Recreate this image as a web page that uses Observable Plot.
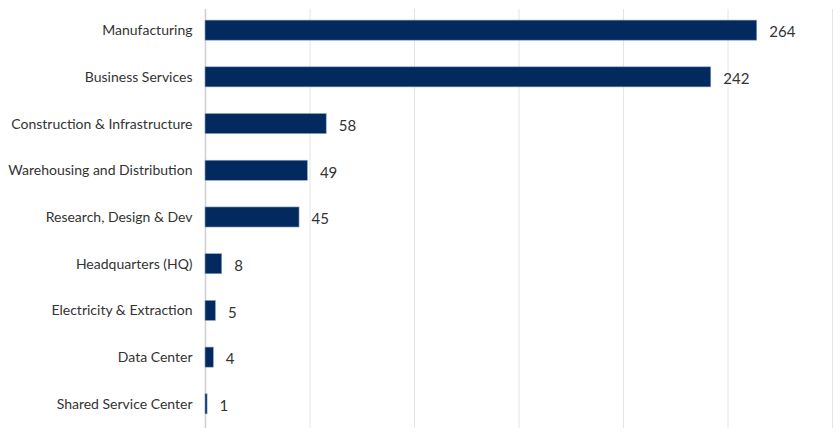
<!DOCTYPE html>
<html>
<head>
<meta charset="utf-8">
<script src="https://cdn.jsdelivr.net/npm/d3@7"></script>
<script src="https://cdn.jsdelivr.net/npm/@observablehq/plot@0.6"></script>
<style>
  html, body { margin: 0; padding: 0; background: #fff; }
  #chart svg { display: block; }
</style>
</head>
<body>
<div id="chart"></div>
<script>
const categories = [
  "Manufacturing",
  "Business Services",
  "Construction & Infrastructure",
  "Warehousing and Distribution",
  "Research, Design & Dev",
  "Headquarters (HQ)",
  "Electricity & Extraction",
  "Data Center",
  "Shared Service Center"
];
const values = [264, 242, 58, 49, 45, 8, 5, 4, 1];
const xTicks = [0, 50, 100, 150, 200, 250, 300];

const data = categories.map((c, i) => ({category: c, value: values[i]}));

const chart = Plot.plot({
  width: 840,
  height: 440,
  marginLeft: 205,
  marginRight: 8,
  marginTop: 9,
  marginBottom: 12,
  style: {fontFamily: "Lato, sans-serif", fontSize: "14px", color: "#333"},
  x: {domain: [0, 300], ticks: xTicks, axis: null},
  y: {domain: categories, paddingInner: 0.57, paddingOuter: 0.27, align: 0.44, round: false, label: null, tickSize: 0, tickPadding: 13},
  marks: [
    Plot.ruleX(xTicks.slice(1), {stroke: "#e4e4e4", strokeWidth: 1}),
    Plot.ruleX([0], {stroke: "#cfcfcf", strokeWidth: 1.5}),
    Plot.barX(data, {x: "value", y: "category", fill: "#022a5e", stroke: "#8ea6c6", strokeWidth: 0.6}),
    Plot.text(data, {x: "value", y: "category", text: d => String(d.value), dx: 12, dy: 2, textAnchor: "start", fill: "#333", fontSize: 15}),
    Plot.axisY({tickSize: 0, tickPadding: 13, fontSize: 14, fill: "#333", label: null})
  ]
});
document.getElementById("chart").appendChild(chart);
</script>
</body>
</html>
